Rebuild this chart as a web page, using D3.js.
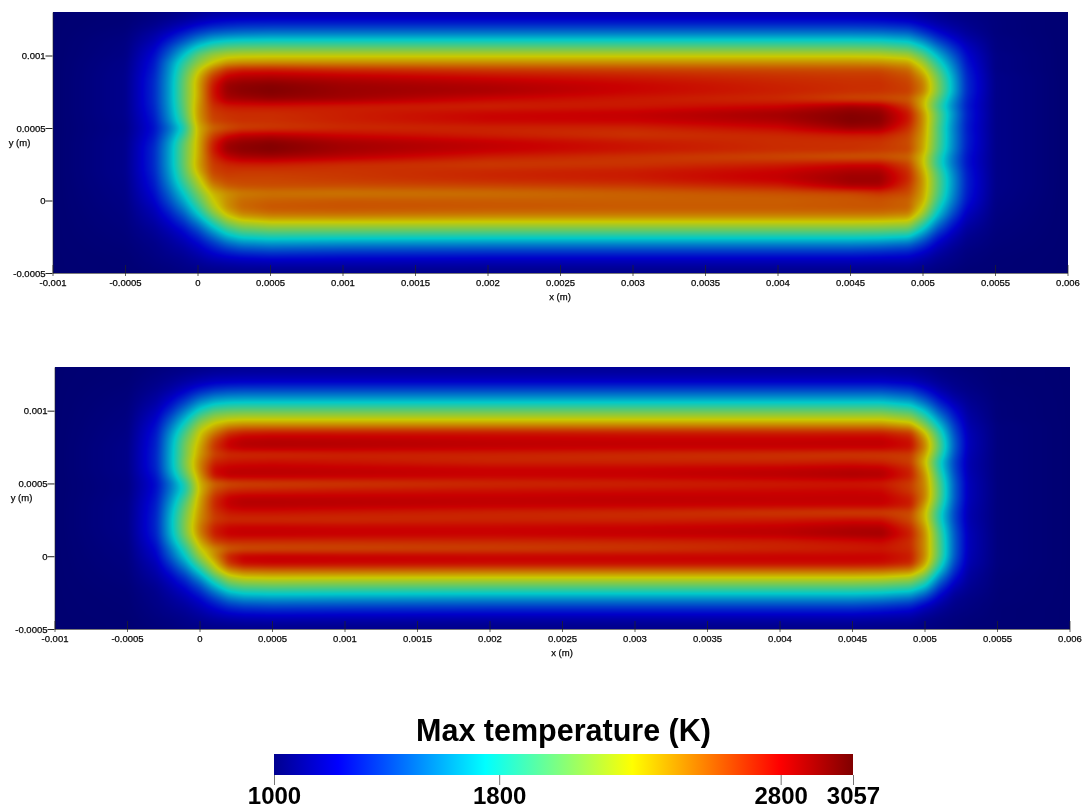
<!doctype html>
<html lang="en">
<head>
<meta charset="UTF-8" />
<title>Max temperature</title>
<script src="https://d3js.org/d3.v7.min.js"></script>
<style>
  html, body { margin: 0; background: #fff; }
  #stage { position: relative; width: 1087px; height: 811px; overflow: hidden; }
  #stage canvas, #stage svg { position: absolute; left: 0; top: 0; }
  text { font-family: "Liberation Sans", sans-serif; fill: #000; }
  .axis text, text.axis { font-size: 9.5px; stroke: #111; stroke-width: 0.25px; }
  .axis line, .axis path { stroke: #222; stroke-width: 1px; }
  .axis path { stroke-opacity: 0.6; }
</style>
</head>
<body>
<div id="stage"></div>
<script>
// sample positions of the temperature field
const xs = [-0.001, -0.0005, -0.0003, -0.0002, -0.0001, 0, 0.0001, 0.0002, 0.0003, 0.0005, 0.001, 0.002,
  0.003, 0.004, 0.0045, 0.0047, 0.0049, 0.005, 0.0051, 0.0052, 0.0053, 0.0055, 0.006];
const ys = [0.0013, 0.00125, 0.0012, 0.00115, 0.0011, 0.00105, 0.001, 0.00095, 0.0009, 0.00085, 0.0008, 0.00075,
  0.0007, 0.00065, 0.0006, 0.00055, 0.0005, 0.00045, 0.0004, 0.00035, 0.0003, 0.00025, 0.0002, 0.00015, 0.0001,
  0.00005, 0, -0.00005, -0.0001, -0.00015, -0.0002, -0.00025, -0.0003, -0.00035, -0.0004, -0.00045, -0.0005];

// temperatures in K, one row per ys entry, one column per xs entry
const topTemps = [
  [1000,1010,1030,1040,1060,1080,1100,1110,1120,1130,1140,1140,1140,1140,1140,1130,1110,1090,1070,1050,1040,1020,1000],
  [1000,1015,1050,1080,1110,1150,1190,1210,1220,1230,1230,1230,1230,1230,1230,1220,1190,1150,1110,1080,1060,1030,1000],
  [1000,1020,1080,1130,1190,1260,1310,1340,1360,1370,1370,1370,1370,1370,1370,1360,1330,1250,1170,1120,1080,1030,1000],
  [1000,1030,1130,1210,1310,1410,1490,1520,1540,1560,1560,1560,1560,1560,1560,1550,1510,1390,1270,1180,1110,1030,1000],
  [1000,1040,1170,1300,1440,1600,1710,1760,1780,1790,1790,1790,1790,1790,1790,1780,1730,1590,1400,1270,1160,1040,1000],
  [1000,1045,1220,1400,1600,1800,1930,1990,2010,2020,2020,2020,2020,2020,2020,2010,1950,1790,1560,1370,1210,1040,1000],
  [1000,1050,1260,1480,1740,2000,2150,2220,2240,2250,2250,2250,2250,2250,2250,2240,2180,1990,1710,1470,1250,1050,1000],
  [1000,1060,1290,1570,1860,2100,2270,2400,2430,2440,2440,2440,2440,2440,2440,2430,2380,2160,1840,1560,1280,1050,1000],
  [1000,1065,1310,1600,1930,2240,2500,2680,2730,2740,2700,2660,2640,2620,2610,2610,2530,2300,1960,1630,1310,1050,1000],
  [1000,1070,1330,1620,1980,2330,2650,2820,2860,2870,2840,2780,2730,2680,2660,2660,2600,2420,2050,1690,1330,1060,1000],
  [1000,1070,1340,1630,2000,2360,2720,2920,2950,2970,2910,2860,2790,2710,2680,2680,2630,2480,2090,1710,1340,1060,1000],
  [1000,1070,1340,1630,2000,2350,2740,2920,2960,2985,2920,2880,2790,2720,2680,2670,2640,2470,2090,1710,1340,1060,1000],
  [1000,1070,1340,1630,2000,2360,2720,2880,2900,2930,2900,2790,2730,2680,2600,2590,2560,2350,2000,1640,1320,1060,1000],
  [1000,1070,1330,1620,1980,2390,2670,2730,2740,2740,2720,2700,2730,2790,2900,2870,2650,2340,1920,1590,1300,1060,1000],
  [1000,1070,1310,1600,1950,2400,2640,2670,2680,2680,2720,2790,2820,2900,2970,2950,2740,2420,2000,1640,1320,1060,1000],
  [1000,1065,1290,1570,1900,2380,2620,2660,2680,2680,2720,2790,2800,2870,2985,2965,2740,2430,2000,1620,1310,1060,1000],
  [1000,1060,1270,1500,1800,2330,2520,2580,2620,2640,2680,2700,2700,2780,2920,2900,2680,2420,1970,1600,1300,1060,1000],
  [1000,1065,1290,1560,1880,2330,2620,2760,2830,2850,2790,2720,2660,2690,2720,2720,2620,2400,1980,1610,1310,1060,1000],
  [1000,1070,1320,1620,1980,2340,2700,2900,2940,2970,2890,2820,2740,2680,2670,2660,2600,2380,1970,1610,1310,1060,1000],
  [1000,1070,1340,1640,2000,2340,2720,2920,2960,2985,2900,2820,2750,2690,2680,2660,2620,2370,1950,1600,1300,1060,1000],
  [1000,1070,1340,1640,2000,2350,2680,2820,2880,2900,2840,2720,2660,2600,2560,2560,2530,2300,1880,1550,1280,1060,1000],
  [1000,1070,1340,1640,2000,2370,2640,2700,2720,2720,2680,2640,2660,2720,2780,2780,2620,2300,1870,1550,1280,1060,1000],
  [1000,1070,1330,1620,1970,2330,2620,2660,2650,2650,2660,2700,2730,2800,2880,2880,2680,2360,1950,1600,1300,1060,1000],
  [1000,1065,1310,1590,1920,2230,2560,2620,2620,2620,2650,2700,2730,2820,2920,2920,2700,2400,1990,1630,1310,1060,1000],
  [1000,1060,1290,1540,1840,2150,2450,2560,2590,2600,2600,2620,2650,2720,2880,2880,2650,2400,1990,1630,1310,1060,1000],
  [1000,1055,1260,1480,1750,2050,2320,2420,2470,2490,2480,2500,2540,2580,2600,2650,2600,2380,1970,1610,1300,1055,1000],
  [1000,1050,1230,1420,1660,1960,2260,2430,2520,2550,2570,2560,2550,2550,2570,2580,2540,2350,1910,1570,1280,1050,1000],
  [1000,1045,1190,1350,1560,1850,2180,2420,2530,2580,2590,2580,2570,2570,2580,2580,2550,2260,1820,1500,1240,1045,1000],
  [1000,1040,1160,1280,1450,1720,2030,2290,2430,2490,2500,2480,2480,2480,2480,2480,2440,2130,1720,1420,1190,1040,1000],
  [1000,1035,1130,1220,1350,1560,1840,2090,2210,2270,2270,2260,2260,2260,2260,2250,2220,1930,1570,1320,1150,1035,1000],
  [1000,1030,1100,1170,1260,1420,1660,1880,2000,2050,2050,2040,2040,2040,2040,2030,2000,1740,1430,1240,1110,1030,1000],
  [1000,1025,1080,1130,1200,1310,1490,1680,1780,1820,1810,1800,1800,1800,1800,1790,1750,1540,1300,1170,1080,1025,1000],
  [1000,1020,1060,1100,1150,1230,1350,1480,1560,1600,1580,1570,1570,1570,1570,1550,1500,1370,1210,1120,1060,1020,1000],
  [1000,1015,1050,1080,1110,1170,1250,1320,1370,1400,1380,1370,1370,1370,1370,1350,1320,1240,1140,1080,1040,1015,1000],
  [1000,1010,1040,1060,1080,1120,1170,1200,1220,1240,1230,1220,1220,1220,1220,1210,1200,1150,1090,1060,1030,1010,1000],
  [1000,1010,1030,1040,1060,1080,1100,1110,1120,1130,1130,1120,1120,1120,1120,1115,1110,1090,1060,1040,1020,1010,1000],
  [1000,1005,1020,1030,1040,1050,1055,1060,1060,1060,1060,1060,1060,1060,1060,1060,1060,1050,1030,1020,1010,1005,1000]
];

const bottomTemps = [
  [1000,1010,1030,1040,1050,1060,1070,1080,1085,1090,1090,1090,1090,1090,1090,1090,1080,1060,1040,1030,1020,1010,1000],
  [1000,1012,1040,1060,1080,1100,1120,1125,1130,1130,1130,1130,1130,1130,1130,1130,1110,1090,1060,1040,1030,1010,1000],
  [1000,1015,1060,1090,1130,1170,1200,1210,1215,1220,1220,1220,1220,1220,1220,1220,1190,1140,1090,1060,1040,1010,1000],
  [1000,1020,1080,1130,1200,1280,1340,1370,1380,1380,1380,1380,1380,1380,1380,1380,1330,1240,1140,1080,1050,1015,1000],
  [1000,1025,1110,1190,1300,1440,1530,1560,1570,1570,1570,1570,1570,1570,1570,1570,1500,1370,1220,1120,1070,1015,1000],
  [1000,1030,1140,1260,1420,1620,1730,1770,1780,1780,1780,1780,1780,1780,1780,1780,1700,1530,1320,1180,1090,1020,1000],
  [1000,1035,1180,1340,1560,1800,1950,1990,2000,2000,2000,2000,2000,2000,2000,2000,1920,1720,1440,1250,1110,1020,1000],
  [1000,1040,1220,1440,1700,1990,2150,2200,2220,2220,2220,2220,2220,2220,2220,2220,2130,1900,1580,1310,1130,1020,1000],
  [1000,1045,1260,1530,1830,2150,2320,2420,2450,2450,2450,2450,2450,2450,2450,2450,2370,2080,1720,1380,1150,1030,1000],
  [1000,1050,1290,1610,1940,2270,2480,2660,2720,2740,2740,2740,2730,2720,2720,2720,2640,2290,1850,1430,1170,1030,1000],
  [1000,1055,1310,1660,2020,2320,2620,2790,2840,2850,2840,2820,2810,2810,2820,2820,2750,2420,1930,1470,1180,1030,1000],
  [1000,1060,1320,1680,2060,2370,2670,2810,2850,2860,2850,2830,2820,2820,2820,2820,2770,2460,1960,1480,1180,1030,1000],
  [1000,1060,1330,1690,2060,2400,2620,2680,2680,2680,2700,2700,2680,2660,2640,2640,2640,2380,1900,1450,1170,1030,1000],
  [1000,1060,1330,1690,2090,2450,2700,2740,2750,2760,2740,2700,2700,2700,2720,2700,2630,2300,1800,1410,1160,1030,1000],
  [1000,1060,1320,1680,2060,2460,2780,2820,2830,2830,2820,2800,2800,2820,2840,2830,2700,2360,1830,1420,1160,1030,1000],
  [1000,1055,1290,1620,1980,2400,2760,2830,2830,2830,2820,2800,2810,2840,2870,2860,2720,2420,1900,1450,1170,1030,1000],
  [1000,1050,1260,1530,1850,2340,2530,2590,2610,2620,2640,2680,2700,2720,2730,2720,2640,2440,1950,1480,1180,1030,1000],
  [1000,1050,1270,1550,1830,2320,2600,2690,2710,2720,2740,2760,2770,2780,2790,2780,2650,2460,1970,1480,1180,1030,1000],
  [1000,1055,1290,1600,1930,2370,2680,2810,2840,2840,2830,2820,2830,2820,2820,2820,2720,2460,1960,1480,1180,1030,1000],
  [1000,1060,1310,1650,2010,2390,2700,2820,2850,2850,2840,2820,2810,2800,2800,2800,2730,2380,1900,1450,1170,1030,1000],
  [1000,1060,1320,1690,2060,2420,2660,2740,2750,2750,2730,2700,2680,2640,2620,2620,2600,2310,1820,1420,1160,1030,1000],
  [1000,1060,1330,1710,2090,2440,2640,2680,2680,2680,2680,2700,2700,2730,2760,2750,2600,2320,1820,1420,1160,1030,1000],
  [1000,1060,1330,1710,2100,2480,2720,2790,2800,2800,2790,2790,2800,2820,2860,2860,2680,2390,1880,1450,1170,1030,1000],
  [1000,1055,1320,1690,2070,2460,2730,2810,2820,2820,2810,2800,2820,2840,2890,2900,2720,2430,1930,1470,1180,1030,1000],
  [1000,1050,1290,1630,1980,2360,2620,2680,2680,2680,2680,2690,2700,2720,2760,2780,2680,2430,1950,1480,1180,1030,1000],
  [1000,1045,1250,1540,1860,2260,2440,2550,2580,2590,2600,2620,2650,2700,2720,2730,2690,2430,1960,1480,1180,1030,1000],
  [1000,1040,1220,1470,1760,2140,2430,2720,2810,2820,2810,2800,2800,2800,2800,2800,2730,2440,1950,1470,1170,1030,1000],
  [1000,1035,1180,1380,1630,1980,2300,2660,2780,2800,2790,2780,2780,2780,2780,2770,2700,2370,1870,1420,1160,1030,1000],
  [1000,1030,1150,1290,1490,1790,2150,2420,2510,2530,2530,2520,2520,2520,2520,2510,2450,2200,1730,1350,1130,1025,1000],
  [1000,1025,1120,1220,1360,1600,1920,2170,2250,2270,2260,2250,2250,2250,2250,2240,2180,1980,1560,1270,1110,1020,1000],
  [1000,1020,1090,1170,1270,1440,1710,1950,2020,2040,2030,2020,2020,2020,2020,2000,1950,1770,1410,1190,1090,1020,1000],
  [1000,1015,1070,1130,1200,1320,1520,1710,1780,1800,1790,1780,1780,1780,1780,1760,1700,1540,1280,1120,1070,1015,1000],
  [1000,1012,1060,1100,1150,1230,1360,1500,1560,1580,1570,1560,1560,1560,1560,1530,1470,1340,1180,1080,1050,1015,1000],
  [1000,1010,1050,1080,1110,1170,1250,1330,1370,1390,1380,1370,1370,1370,1370,1340,1290,1190,1110,1060,1040,1010,1000],
  [1000,1008,1040,1060,1080,1120,1170,1210,1230,1240,1230,1220,1220,1220,1220,1200,1170,1110,1070,1040,1030,1010,1000],
  [1000,1005,1030,1040,1060,1080,1100,1110,1120,1130,1120,1110,1110,1110,1110,1100,1090,1060,1040,1030,1020,1010,1000],
  [1000,1005,1020,1030,1040,1050,1055,1060,1060,1060,1060,1060,1060,1060,1060,1055,1050,1040,1030,1020,1010,1005,1000]
];

const xTicks = [-0.001, -0.0005, 0, 0.0005, 0.001, 0.0015, 0.002, 0.0025, 0.003, 0.0035, 0.004, 0.0045, 0.005, 0.0055, 0.006];
const yTicks = [-0.0005, 0, 0.0005, 0.001];
const barTicks = [1000, 1800, 2800, 3057];
const tempStops = [1000, 1228, 1751, 2273, 2796, 3057];
const jetColors = ["#00008f", "#0000ff", "#00ffff", "#ffff00", "#ff0000", "#800000"];
const shade = 0.79; // the field in the picture is lit, darker than its color bar

const color = d3.scaleLinear().domain(tempStops).range(jetColors).clamp(true);

// color table so we dont parse a color string per pixel
const lut = d3.range(1000, 3058).map(t => d3.rgb(color(t)));

const stage = d3.select("#stage");
const svg = stage.append("svg").attr("width", 1087).attr("height", 811).style("z-index", 2);

function drawPanel(temps, box) {
  const x = d3.scaleLinear().domain([-0.001, 0.006]).range([box.left, box.right]);
  const y = d3.scaleLinear().domain([-0.0005, 0.0013]).range([box.bottom, box.top]);
  const w = Math.round(box.right - box.left);
  const h = Math.round(box.bottom - box.top);

  const colAt = d3.scaleLinear().domain(xs).range(d3.range(xs.length)).clamp(true);
  const rowAt = d3.scaleLinear().domain(ys).range(d3.range(ys.length)).clamp(true);

  const canvas = stage.append("canvas")
    .attr("width", w).attr("height", h)
    .style("left", box.left + "px").style("top", box.top + "px");
  const ctx = canvas.node().getContext("2d");
  const image = ctx.createImageData(w, h);

  // shade between the samples, blur takes out the grid corners
  const field = new Float32Array(w * h);
  for (let j = 0; j < h; j++) {
    const r = rowAt(y.invert(box.top + j + 0.5));
    const r0 = Math.min(Math.floor(r), ys.length - 2), fr = r - r0;
    for (let i = 0; i < w; i++) {
      const c = colAt(x.invert(box.left + i + 0.5));
      const c0 = Math.min(Math.floor(c), xs.length - 2), fc = c - c0;
      const a = temps[r0][c0] * (1 - fc) + temps[r0][c0 + 1] * fc;
      const b = temps[r0 + 1][c0] * (1 - fc) + temps[r0 + 1][c0 + 1] * fc;
      field[j * w + i] = a * (1 - fr) + b * fr;
    }
  }
  d3.blur2({data: field, width: w, height: h}, 2);

  for (let k = 0; k < field.length; k++) {
    const c = lut[Math.max(0, Math.min(2057, Math.round(field[k]) - 1000))];
    image.data[k * 4] = c.r * shade;
    image.data[k * 4 + 1] = c.g * shade;
    image.data[k * 4 + 2] = c.b * shade;
    image.data[k * 4 + 3] = 255;
  }
  ctx.putImageData(image, 0, 0);

  const gx = svg.append("g").attr("class", "axis")
    .attr("transform", `translate(0,${box.bottom})`)
    .call(d3.axisBottom(x).tickValues(xTicks).tickFormat(d => String(d)).tickSize(3).tickSizeOuter(0).tickPadding(3));
  gx.selectAll(".tick line").attr("y1", -8).attr("stroke-opacity", 0.7);

  svg.append("g").attr("class", "axis")
    .attr("transform", `translate(${box.left},0)`)
    .call(d3.axisLeft(y).tickValues(yTicks).tickFormat(d => String(d)).tickSize(7).tickSizeOuter(0).tickPadding(0));

  svg.append("text").attr("class", "axis").attr("x", box.left - 33).attr("y", y(0.0004) + 3)
    .attr("text-anchor", "middle").text("y (m)");
  svg.append("text").attr("class", "axis").attr("x", x(0.0025)).attr("y", box.bottom + 27)
    .attr("text-anchor", "middle").text("x (m)");
}

drawPanel(topTemps, {left: 52.5, right: 1067.5, top: 12, bottom: 273});
drawPanel(bottomTemps, {left: 54.5, right: 1069.5, top: 367, bottom: 629});

// color bar
const barX = d3.scaleLinear().domain([1000, 3057]).range([274, 853]);
const grad = svg.append("defs").append("linearGradient").attr("id", "jet");
grad.selectAll("stop").data(tempStops).join("stop")
  .attr("offset", d => (d - 1000) / 2057)
  .attr("stop-color", d => color(d));

svg.append("rect").attr("x", barX(1000)).attr("y", 754)
  .attr("width", barX(3057) - barX(1000)).attr("height", 21)
  .attr("fill", "url(#jet)");

const barAxis = svg.append("g").attr("transform", "translate(0,775)")
  .call(d3.axisBottom(barX).tickValues(barTicks).tickFormat(d3.format("d")).tickSize(10).tickSizeOuter(0).tickPadding(2));
barAxis.select(".domain").remove();
barAxis.selectAll("line").attr("stroke", "#777");
barAxis.selectAll("text").style("font-size", "24px").style("font-weight", "bold")
  .style("font-family", "Liberation Sans").style("fill", "#000");

svg.append("text").attr("x", 563.5).attr("y", 740.5).attr("text-anchor", "middle")
  .style("font-size", "30.5px").style("font-weight", "bold").text("Max temperature (K)");
</script>
</body>
</html>
